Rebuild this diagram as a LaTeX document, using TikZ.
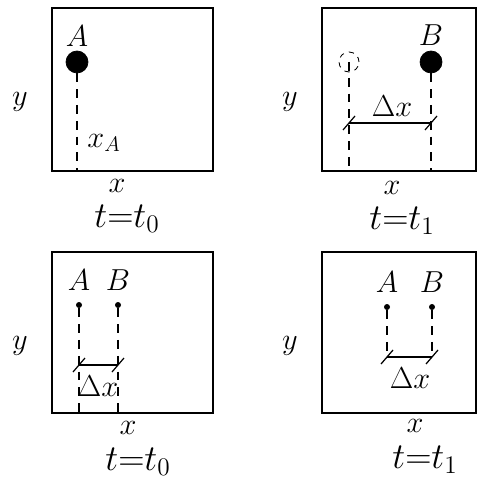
\documentclass[tikz,border=0pt]{standalone}
\usetikzlibrary{positioning,calc}
\tikzset{
  frame/.style = {draw, line width=1.2pt},
  ball/.style  = {circle, fill=black, draw, minimum size=4.4mm, inner sep=0pt},
  ghost/.style = {circle, draw, dashed, minimum size=4mm, inner sep=0pt, line width=0.5pt},
  pin/.style   = {circle, fill=black, minimum size=1.2mm, inner sep=0pt},
  guide/.style = {dashed, line width=0.8pt, dash pattern=on 5pt off 4pt},
  dim/.style   = {line width=0.7pt},
  tick/.style  = {line width=0.7pt},
  lab/.style   = {font=\LARGE, inner sep=1pt},
}
\begin{document}
\begin{tikzpicture}[x=0.2mm, y=-0.2mm]
  \useasboundingbox (0,0) rectangle (478,486);
  % frames, axes and times
  \foreach \i/\px/\py/\qx/\qy/\ax/\ay/\ty/\tm in {1/52/8/213/171/117/186/219/t_0,
      2/322/8/476/171/392/188/221/t_1, 3/52/252/213/413/128/428/462/t_0,
      4/322/252/476/413/415/426/460/t_1}{
    \draw[frame] (\px,\py) rectangle (\qx,\qy);
    \node[lab] (y\i) at ($(\px,\py)+(-32,94)$) {$y$};
    \node[lab, inner sep=0pt] (x\i) at (\ax,\ay) {$x$};
    \node[font=\huge, inner sep=0pt] (t\i) at (\ax+10,\ty) {$t{=}\tm$};
  }
  % panel 1
  \node[ball] (dotA) at (77,62) {};
  \node[lab, above=1pt of dotA] (labA) {$A$};
  \coordinate (footA) at (77,171);
  \draw[guide, line width=0.6pt] (dotA) -- (footA);
  \node[lab] (xA) at (104,143) {$x_A$};
  % panel 2
  \node[ghost] (old) at (349,62) {};
  \node[ball] (dotB) at (431,62) {};
  \node[lab, above=2pt of dotB] (labB) {$B$};
  \coordinate (footO) at (349,171);
  \coordinate (footB) at (431,171);
  \draw[guide] (old.center) -- (footO);
  \draw[guide] (dotB) -- (footB);
  \coordinate (d2a) at (349,123);
  \coordinate (d2b) at (431,123);
  \draw[dim] (d2a) -- (d2b);
  \node[lab] (dx2) at (392,106) {$\Delta x$};
  % panel 3
  \node[pin] (pA3) at (79,305) {};
  \node[pin] (pB3) at (118,305) {};
  \node[lab, above=5pt of pA3] (labA3) {$A$};
  \node[lab, above=5pt of pB3] (labB3) {$B$};
  \coordinate (fA3) at (79,413);
  \coordinate (fB3) at (118,413);
  \draw[guide] (pA3) -- (fA3);
  \draw[guide] (pB3) -- (fB3);
  \coordinate (d3a) at (79,365);
  \coordinate (d3b) at (118,365);
  \draw[dim] (d3a) -- (d3b);
  \node[lab] (dx3) at (98,386) {$\Delta x$};
  % panel 4
  \node[pin] (pA4) at (387,307) {};
  \node[pin] (pB4) at (432,307) {};
  \node[lab, above=5pt of pA4] (labA4) {$A$};
  \node[lab, above=5pt of pB4] (labB4) {$B$};
  \coordinate (d4a) at (387,357);
  \coordinate (d4b) at (432,357);
  \draw[guide, line width=0.6pt] (pA4) -- (d4a);
  \draw[guide, line width=0.6pt] (pB4) -- (d4b);
  \draw[dim] (d4a) -- (d4b);
  \node[lab] (dx4) at (410,378) {$\Delta x$};
  % slanted end ticks
  \foreach \p in {d2a,d2b,d3a,d3b,d4a,d4b}
    \draw[tick] ($(\p)+(-6,7)$) -- ($(\p)+(6,-7)$);
\end{tikzpicture}
\end{document}
